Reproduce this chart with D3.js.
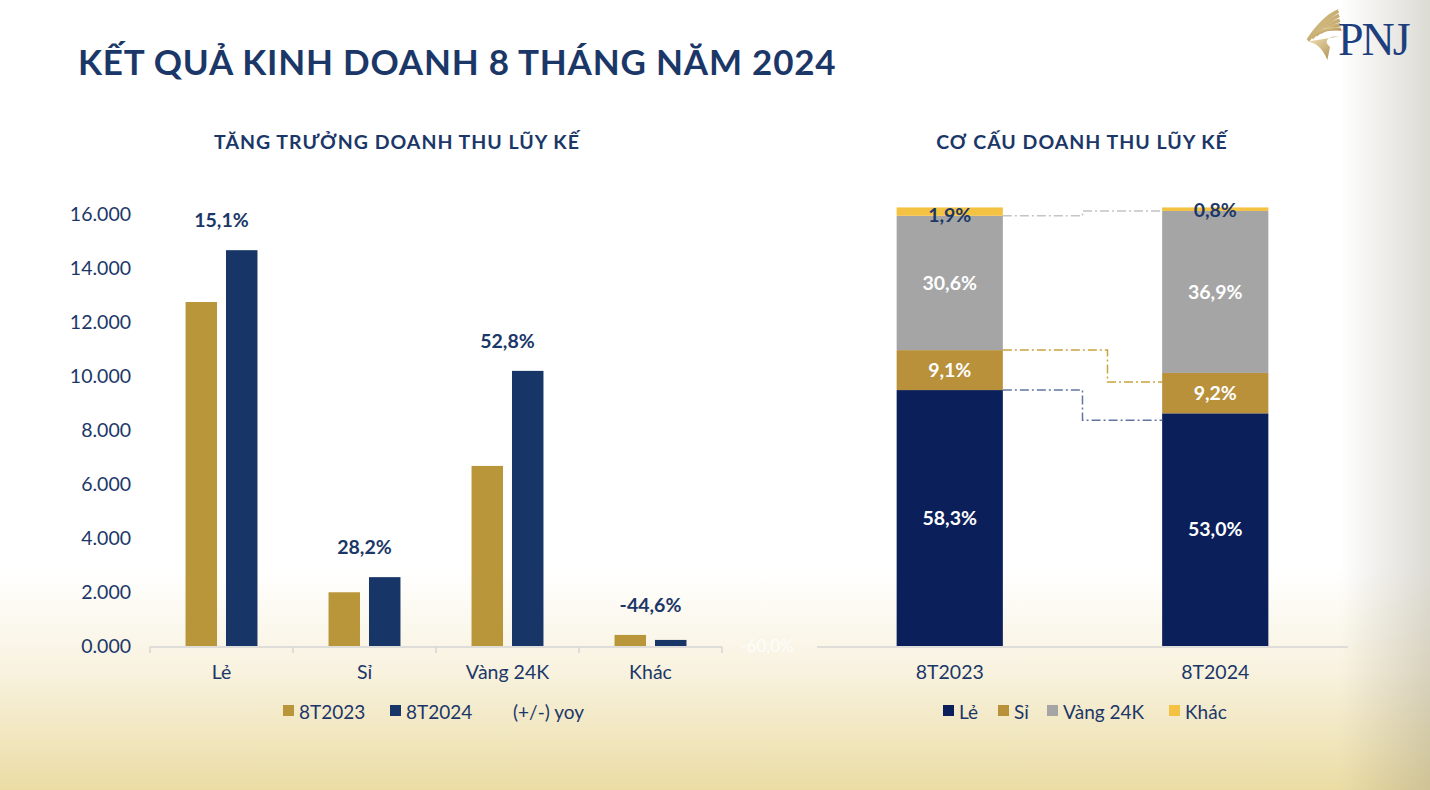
<!DOCTYPE html>
<html>
<head>
<meta charset="utf-8">
<script src="https://cdn.jsdelivr.net/npm/d3@7"></script>
<style>
  body { margin: 0; background: #fff; }
  svg { display: block; font-family: Lato, "Open Sans", sans-serif; }
</style>
</head>
<body>
<svg id="chart" width="1430" height="790"></svg>
<script>
// left chart data (ty dong)
var categories = ["Lẻ", "Sỉ", "Vàng 24K", "Khác"];
var seriesNames = ["8T2023", "8T2024"];
var revenue2023 = [12740, 1990, 6670, 410];
var revenue2024 = [14660, 2550, 10190, 225];
var yoyLabels = ["15,1%", "28,2%", "52,8%", "-44,6%"];
var yTicks = [0, 2000, 4000, 6000, 8000, 10000, 12000, 14000, 16000];

// right chart data (%)
var periods = ["8T2023", "8T2024"];
var segments = ["Lẻ", "Sỉ", "Vàng 24K", "Khác"];
var share2023 = [58.3, 9.1, 30.6, 1.9];
var share2024 = [53.0, 9.2, 36.9, 0.8];

var navyText = "#1b3768";
var leftColors = { "8T2023": "#b9963a", "8T2024": "#173566" };
var segColors = { "Lẻ": "#0b1f5a", "Sỉ": "#b9913a", "Vàng 24K": "#a5a5a5", "Khác": "#f4c242" };
var lineColors = { "Lẻ": "#6274a0", "Sỉ": "#c9a33e", "Vàng 24K": "#c4c4c4" };

var svg = d3.select("#chart");
var defs = svg.append("defs");

// background
var bg = defs.append("linearGradient").attr("id", "bgV").attr("x1", 0).attr("y1", 0).attr("x2", 0).attr("y2", 1);
bg.append("stop").attr("offset", "0%").attr("stop-color", "#ffffff");
bg.append("stop").attr("offset", "72%").attr("stop-color", "#ffffff");
bg.append("stop").attr("offset", "85%").attr("stop-color", "#f8f2df");
bg.append("stop").attr("offset", "100%").attr("stop-color", "#ebdca4");
var side = defs.append("linearGradient").attr("id", "bgH").attr("x1", 0).attr("y1", 0).attr("x2", 1).attr("y2", 0);
side.append("stop").attr("offset", "0%").attr("stop-color", "#8c8670").attr("stop-opacity", 0);
side.append("stop").attr("offset", "100%").attr("stop-color", "#8c8670").attr("stop-opacity", 0.3);
svg.append("rect").attr("width", 1430).attr("height", 790).attr("fill", "url(#bgV)");
svg.append("rect").attr("x", 1340).attr("width", 90).attr("height", 790).attr("fill", "url(#bgH)");

// logo
var gold = defs.append("linearGradient").attr("id", "logoGold").attr("x1", 0).attr("y1", 0).attr("x2", 1).attr("y2", 1);
gold.append("stop").attr("offset", "0%").attr("stop-color", "#f3e2b0");
gold.append("stop").attr("offset", "100%").attr("stop-color", "#9c7a36");
var logo = svg.append("g").attr("transform", "translate(1304,8) scale(1.3)");
[0, 1, 2, 3, 4].forEach(function (i) {
    logo.append("path")
        .attr("d", "M" + (2 + i * 3) + "," + (24 - i * 2) + " Q" + (14 + i * 2) + "," + (6 + i * 2) + " " + (26 + i * 0.5) + "," + (1 + i * 3.5) +
            " L" + (27 + i * 0.5) + "," + (3.5 + i * 3.5) + " Q" + (16 + i * 2) + "," + (9 + i * 2) + " " + (4 + i * 3) + "," + (26 - i * 2) + "Z")
        .attr("fill", "url(#logoGold)");
});
logo.append("path").attr("d", "M2,26 Q12,26 18,40 L20,30 Q14,25 22,22 L27,22 Z").attr("fill", "url(#logoGold)").attr("opacity", 0.9);
svg.append("text").attr("x", 1338).attr("y", 55).text("PNJ")
    .attr("font-family", "'Liberation Serif', serif").attr("font-size", 46)
    .attr("fill", "#1d3f7d").attr("letter-spacing", -2);

// titles
svg.append("text").attr("x", 78).attr("y", 75).text("KẾT QUẢ KINH DOANH 8 THÁNG NĂM 2024")
    .attr("font-size", 35).attr("font-weight", "bold").attr("fill", navyText).attr("letter-spacing", 0.8);
svg.append("text").attr("x", 397).attr("y", 149).attr("text-anchor", "middle").text("TĂNG TRƯỞNG DOANH THU LŨY KẾ")
    .attr("font-size", 19.5).attr("font-weight", "bold").attr("fill", navyText).attr("letter-spacing", 1);
svg.append("text").attr("x", 1082).attr("y", 149).attr("text-anchor", "middle").text("CƠ CẤU DOANH THU LŨY KẾ")
    .attr("font-size", 19.5).attr("font-weight", "bold").attr("fill", navyText).attr("letter-spacing", 1);

// ---------- left chart ----------
var y = d3.scaleLinear().domain([0, 16000]).range([646, 214]);
var x = d3.scaleBand().domain(categories).range([150, 722]);
var groupW = x.bandwidth() * 0.503;
var xSub = d3.scaleBand().domain(seriesNames).range([0, groupW]).paddingInner(0.222);

var fmt = function (d) { return d3.format(".3f")(d / 1000); };
svg.append("g").selectAll("text").data(yTicks).enter().append("text")
    .attr("x", 131).attr("y", function (d) { return y(d); }).attr("dy", "0.35em")
    .attr("text-anchor", "end").attr("font-size", 19.5).attr("fill", navyText)
    .text(fmt);

var rows = categories.map(function (c, i) {
    return { cat: c, vals: [revenue2023[i], revenue2024[i]], label: yoyLabels[i] };
});
var groups = svg.append("g").selectAll("g").data(rows).enter().append("g")
    .attr("transform", function (d) { return "translate(" + (x(d.cat) + (x.bandwidth() - groupW) / 2) + ",0)"; });
groups.selectAll("rect").data(function (d) {
    return d.vals.map(function (v, j) { return { s: seriesNames[j], v: v }; });
}).enter().append("rect")
    .attr("x", function (d) { return xSub(d.s); })
    .attr("width", xSub.bandwidth())
    .attr("y", function (d) { return y(d.v); })
    .attr("height", function (d) { return y(0) - y(d.v); })
    .attr("fill", function (d) { return leftColors[d.s]; });
groups.append("text")
    .attr("x", groupW / 2)
    .attr("y", function (d) { return y(d3.max(d.vals)) - 30; })
    .attr("dy", "0.35em").attr("text-anchor", "middle")
    .attr("font-size", 19.5).attr("font-weight", "bold").attr("fill", navyText)
    .text(function (d) { return d.label; });

var xAxis = d3.axisBottom(x).tickSize(0).tickFormat("");
var axL = svg.append("g").attr("transform", "translate(0,647)").call(xAxis);
axL.select(".domain").attr("stroke", "#d4d4d4").attr("stroke-width", 1.5).attr("d", "M150,0H722");
axL.selectAll(".tickmark").data(d3.range(categories.length + 1)).enter().append("line")
    .attr("x1", function (i) { return 150 + i * x.step(); })
    .attr("x2", function (i) { return 150 + i * x.step(); })
    .attr("y1", 0).attr("y2", 6).attr("stroke", "#d4d4d4").attr("stroke-width", 1.5);
svg.append("g").selectAll("text").data(categories).enter().append("text")
    .attr("x", function (d) { return x(d) + x.bandwidth() / 2; }).attr("y", 679)
    .attr("text-anchor", "middle").attr("font-size", 19.5).attr("fill", navyText).text(function (d) { return d; });

// hidden secondary axis label
svg.append("text").attr("x", 767).attr("y", 646).attr("dy", "0.35em").attr("text-anchor", "middle")
    .attr("font-size", 17).attr("fill", "#ffffff").attr("opacity", 0.9).text("-60,0%");

// left legend
var legL = [{ t: "8T2023", c: leftColors["8T2023"], x: 283 }, { t: "8T2024", c: leftColors["8T2024"], x: 390 }];
legL.forEach(function (d) {
    svg.append("rect").attr("x", d.x).attr("y", 705).attr("width", 11).attr("height", 11).attr("fill", d.c);
    svg.append("text").attr("x", d.x + 16).attr("y", 719).attr("font-size", 19).attr("fill", navyText).text(d.t);
});
svg.append("text").attr("x", 513).attr("y", 719).attr("font-size", 19).attr("fill", navyText).text("(+/-) yoy");

// ---------- right chart ----------
var xR = d3.scaleBand().domain(periods).range([817, 1348]);
var yR = d3.scaleLinear().domain([0, 100]).range([646, 207]);
var barW = xR.bandwidth() * 0.4;
var shares = [share2023, share2024];

var stackRows = periods.map(function (p, i) {
    var r = { period: p };
    segments.forEach(function (s, j) { r[s] = shares[i][j]; });
    return r;
});
var stacked = d3.stack().keys(segments)(stackRows);

var layers = svg.append("g").selectAll("g").data(stacked).enter().append("g")
    .attr("fill", function (d) { return segColors[d.key]; });
layers.selectAll("rect").data(function (d) { return d; }).enter().append("rect")
    .attr("x", function (d) { return xR(d.data.period) + (xR.bandwidth() - barW) / 2; })
    .attr("width", barW)
    .attr("y", function (d) { return yR(d[1]); })
    .attr("height", function (d) { return yR(d[0]) - yR(d[1]); });

// connector lines between the bars
var x0 = xR(periods[0]) + (xR.bandwidth() + barW) / 2;
var x1 = xR(periods[1]) + (xR.bandwidth() - barW) / 2;
var stepShift = { "Lẻ": 0, "Sỉ": 25, "Vàng 24K": 0 };
stacked.slice(0, 3).forEach(function (layer) {
    var ya = yR(layer[0][1]), yb = yR(layer[1][1]);
    var xm = (x0 + x1) / 2 + stepShift[layer.key];
    if (layer.key === "Lẻ") yb += 7;
    if (layer.key === "Sỉ") yb += 9;
    svg.append("path")
        .attr("d", "M" + x0 + "," + ya + "H" + xm + "V" + yb + "H" + x1)
        .attr("fill", "none").attr("stroke", lineColors[layer.key]).attr("stroke-width", 1.5)
        .attr("stroke-dasharray", "9 3 2 3");
});

// labels in the bars
stacked.forEach(function (layer) {
    layer.forEach(function (d) {
        var isTop = layer.key === "Khác";
        svg.append("text")
            .attr("x", xR(d.data.period) + xR.bandwidth() / 2)
            .attr("y", isTop ? yR(d[0]) - 1 : (yR(d[0]) + yR(d[1])) / 2)
            .attr("dy", "0.35em").attr("text-anchor", "middle")
            .attr("font-size", 19.5).attr("font-weight", "bold")
            .attr("fill", isTop ? navyText : "#ffffff")
            .text(d3.format(".1f")(d.data[layer.key]).replace(".", ",") + "%");
    });
});

var axR = svg.append("g").attr("transform", "translate(0,647)").call(d3.axisBottom(xR).tickSize(0).tickFormat(""));
axR.select(".domain").attr("stroke", "#d4d4d4").attr("stroke-width", 1.5).attr("d", "M817,0H1348");
svg.append("g").selectAll("text").data(periods).enter().append("text")
    .attr("x", function (d) { return xR(d) + xR.bandwidth() / 2; }).attr("y", 679)
    .attr("text-anchor", "middle").attr("font-size", 19.5).attr("fill", navyText).text(function (d) { return d; });

// right legend
var legR = [{ t: "Lẻ", x: 943 }, { t: "Sỉ", x: 998 }, { t: "Vàng 24K", x: 1047 }, { t: "Khác", x: 1169 }];
legR.forEach(function (d) {
    svg.append("rect").attr("x", d.x).attr("y", 705).attr("width", 11).attr("height", 11).attr("fill", segColors[d.t]);
    svg.append("text").attr("x", d.x + 16).attr("y", 719).attr("font-size", 19).attr("fill", navyText).text(d.t);
});
</script>
</body>
</html>
